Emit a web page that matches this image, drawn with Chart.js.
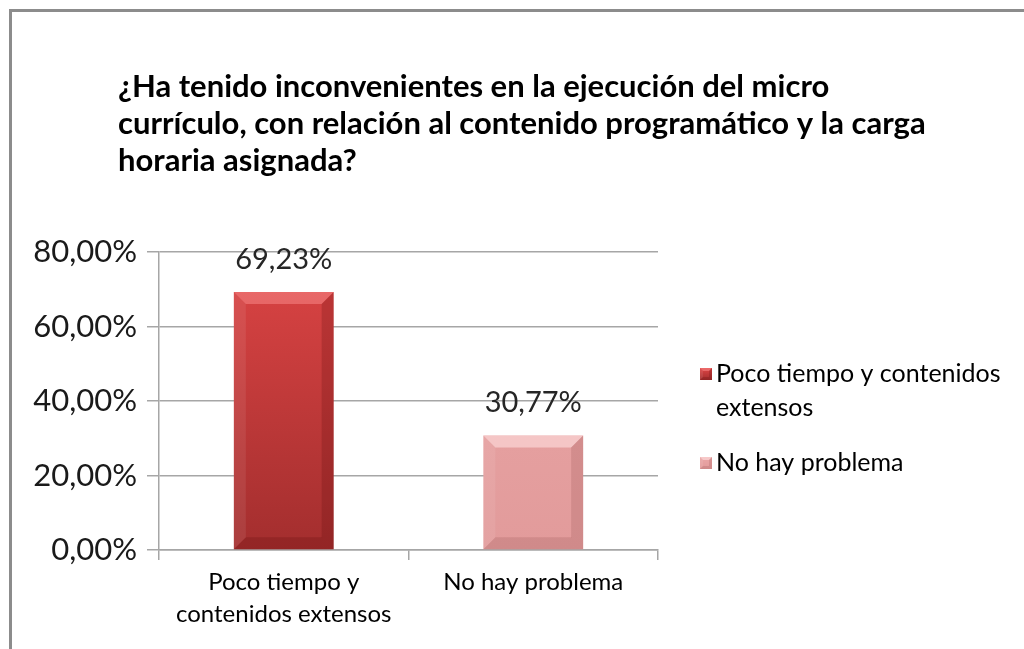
<!DOCTYPE html>
<html>
<head>
<meta charset="utf-8">
<script src="https://cdn.jsdelivr.net/npm/chart.js@4.4.1/dist/chart.umd.min.js"></script>
<style>
  html, body { margin: 0; padding: 0; background: #fff; }
  #wrap { position: relative; width: 1024px; height: 649px; overflow: hidden; }
  #frame { position: absolute; left: 9px; top: 9px; width: 1100px; height: 700px;
           border-top: 3px solid #8c8c8c; border-left: 3px solid #8c8c8c; box-sizing: border-box; }
  canvas { position: absolute; left: 0; top: 0; }
</style>
</head>
<body>
<div id="wrap">
  <div id="frame"></div>
  <canvas id="c" width="1024" height="649"></canvas>
</div>
<script>
const titleLines = [
  '¿Ha tenido inconvenientes en la ejecución del micro',
  'currículo, con relación al contenido programático y la carga',
  'horaria asignada?'
];
const categories = [['Poco tiempo y', 'contenidos extensos'], 'No hay problema'];
const seriesNames = [['Poco tiempo y contenidos', 'extensos'], ['No hay problema']];
const seriesA = [69.23, null];
const seriesB = [null, 30.77];
const yTicks = [0, 20, 40, 60, 80];

const FONT = 'Lato, "Open Sans", sans-serif';
const fmt = v => v.toFixed(2).replace('.', ',') + '%';

const palette = [
  { top: '#dd4545', bottom: '#a32e2e', hi: 'rgba(255,150,150,0.45)', lo: 'rgba(90,10,10,0.22)' },
  { top: '#eaa6a6', bottom: '#e29b9b', hi: 'rgba(255,225,225,0.6)', lo: 'rgba(120,50,50,0.16)' }
];

function gradFor(idx) {
  return (ctx) => {
    const ch = ctx.chart;
    const a = ch.chartArea;
    if (!a) return palette[idx].top;
    const g = ch.ctx.createLinearGradient(0, a.top, 0, a.bottom);
    g.addColorStop(0, palette[idx].top);
    g.addColorStop(1, palette[idx].bottom);
    return g;
  };
}

function bevel(ctx, x0, y0, x1, y1, s, p) {
  ctx.fillStyle = p.hi;
  ctx.beginPath();
  ctx.moveTo(x0, y0); ctx.lineTo(x1, y0); ctx.lineTo(x1 - s, y0 + s); ctx.lineTo(x0 + s, y0 + s); ctx.closePath(); ctx.fill();
  ctx.fillStyle = 'rgba(255,255,255,0.08)';
  ctx.beginPath();
  ctx.moveTo(x0, y0); ctx.lineTo(x0 + s, y0 + s); ctx.lineTo(x0 + s, y1 - s); ctx.lineTo(x0, y1); ctx.closePath(); ctx.fill();
  ctx.fillStyle = p.lo;
  ctx.beginPath();
  ctx.moveTo(x1, y0); ctx.lineTo(x1, y1); ctx.lineTo(x1 - s, y1 - s); ctx.lineTo(x1 - s, y0 + s); ctx.closePath(); ctx.fill();
  ctx.beginPath();
  ctx.moveTo(x0, y1); ctx.lineTo(x1, y1); ctx.lineTo(x1 - s, y1 - s); ctx.lineTo(x0 + s, y1 - s); ctx.closePath(); ctx.fill();
}

const decor = {
  id: 'decor',
  afterDatasetsDraw(chart) {
    const ctx = chart.ctx;
    ctx.save();
    chart.data.datasets.forEach((ds, di) => {
      const meta = chart.getDatasetMeta(di);
      meta.data.forEach((bar, i) => {
        const v = ds.data[i];
        if (v === null || v === undefined) return;
        const w = bar.width;
        const x0 = bar.x - w / 2, x1 = bar.x + w / 2;
        bevel(ctx, x0, bar.y, x1, bar.base, 12, palette[di]);
        ctx.fillStyle = '#262626';
        ctx.font = '29px ' + FONT;
        ctx.textAlign = 'center';
        ctx.textBaseline = 'alphabetic';
        ctx.fillText(fmt(v), bar.x, bar.y - 23);
      });
    });
    ctx.restore();
  },
  afterDraw(chart) {
    const ctx = chart.ctx;
    ctx.save();
    ctx.fillStyle = '#000';
    ctx.font = 'bold 31px ' + FONT;
    ctx.textAlign = 'left';
    ctx.textBaseline = 'alphabetic';
    titleLines.forEach((t, i) => ctx.fillText(t, 118, 97 + i * 37));
    const a = chart.chartArea;
    const lx = a.right + 42;
    let ly = 374;
    ctx.font = '25px ' + FONT;
    ctx.textBaseline = 'middle';
    chart.data.datasets.forEach((ds, di) => {
      const p = palette[di];
      const g = ctx.createLinearGradient(0, ly - 6, 0, ly + 6);
      g.addColorStop(0, p.top); g.addColorStop(1, p.bottom);
      ctx.fillStyle = g;
      ctx.fillRect(lx, ly - 6, 12, 12);
      bevel(ctx, lx, ly - 6, lx + 12, ly + 6, 3, p);
      ctx.fillStyle = '#000';
      seriesNames[di].forEach((line, k) => {
        ctx.fillText(line, lx + 16, ly + k * 34);
      });
      ly += seriesNames[di].length * 34 + 21;
    });
    ctx.restore();
  }
};

new Chart(document.getElementById('c'), {
  type: 'bar',
  data: {
    labels: categories,
    datasets: [
      { label: seriesNames[0].join(' '), data: seriesA, backgroundColor: gradFor(0), borderWidth: 0 },
      { label: seriesNames[1].join(' '), data: seriesB, backgroundColor: gradFor(1), borderWidth: 0 }
    ]
  },
  options: {
    responsive: false,
    animation: false,
    devicePixelRatio: 1,
    layout: { padding: { top: 252, right: 366, left: 0, bottom: 0 } },
    datasets: { bar: { grouped: false, categoryPercentage: 1, barPercentage: 0.4 } },
    plugins: { legend: { display: false }, title: { display: false }, tooltip: { enabled: false } },
    scales: {
      x: {
        grid: { display: true, drawOnChartArea: false, drawTicks: true, tickLength: 10, color: '#a6a6a6', lineWidth: 1.5 },
        border: { display: true, color: '#a6a6a6', width: 1.5 },
        ticks: { color: '#000', font: { family: FONT, size: 24, lineHeight: 1.35 }, padding: 6, maxRotation: 0 },
        afterFit: s => { s.height = 99; }
      },
      y: {
        min: 0, max: 80,
        afterBuildTicks: s => { s.ticks = yTicks.map(v => ({ value: v })); },
        grid: { color: '#a6a6a6', lineWidth: 1.5, tickLength: 12 },
        border: { display: true, color: '#a6a6a6', width: 1.5 },
        ticks: { color: '#1a1a1a', font: { family: FONT, size: 31 }, padding: 10, callback: v => fmt(v) },
        afterFit: s => { s.width = 159; }
      }
    }
  },
  plugins: [decor]
});
</script>
</body>
</html>
